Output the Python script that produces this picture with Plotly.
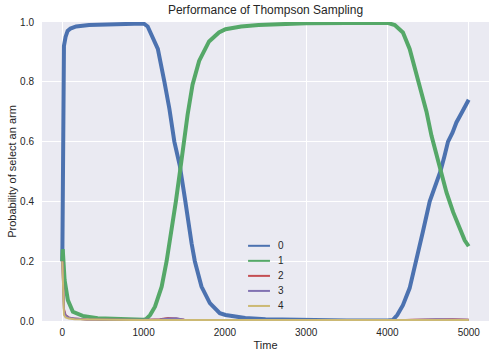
import plotly.graph_objects as go

# ---- data ----
t_main = [0, 5, 10, 20, 40, 65, 100, 170, 330, 600, 850, 1000, 1050, 1075, 1120, 1175,
          1256, 1317, 1378, 1445, 1508, 1560, 1590, 1630, 1712, 1815, 1937, 2008, 2250,
          2500, 3000, 3500, 4000, 4065, 4120, 4190, 4273, 4356, 4437, 4520, 4603, 4651,
          4700, 4745, 4800, 4848, 4920, 4999]
arm0 = [0.2, 0.6, 0.85, 0.92, 0.95, 0.97, 0.978, 0.985, 0.99, 0.993, 0.995, 0.995, 0.985,
        0.97, 0.945, 0.91, 0.80, 0.71, 0.60, 0.52, 0.41, 0.31, 0.26, 0.20, 0.115, 0.06,
        0.026, 0.02, 0.01, 0.006, 0.003, 0.002, 0.002, 0.003, 0.02, 0.053, 0.11, 0.20,
        0.30, 0.40, 0.464, 0.50, 0.55, 0.60, 0.63, 0.664, 0.70, 0.74]

t_arm1 = [0, 5, 28, 68, 130, 250, 435, 700, 1000, 1030, 1080, 1140, 1222, 1283, 1364,
          1397, 1455, 1500, 1541, 1602, 1683, 1805, 1927, 2008, 2200, 2415, 3000, 3500,
          4000, 4090, 4190, 4273, 4356, 4418, 4480, 4541, 4603, 4651, 4726, 4808, 4889,
          4950, 4999]
arm1 = [0.2, 0.24, 0.137, 0.07, 0.031, 0.017, 0.009, 0.006, 0.004, 0.006, 0.02, 0.048,
        0.115, 0.20, 0.337, 0.40, 0.515, 0.61, 0.69, 0.79, 0.87, 0.935, 0.965, 0.976,
        0.985, 0.99, 0.996, 0.997, 0.997, 0.99, 0.965, 0.91, 0.83, 0.76, 0.70, 0.62,
        0.553, 0.50, 0.43, 0.364, 0.31, 0.27, 0.25]

t_small = [0, 10, 20, 40, 80, 150, 300, 600, 1000, 1200, 1300, 1400, 1500, 2000, 3000,
           4000, 4300, 4600, 4800, 5000]
arm2 = [0.2, 0.08, 0.04, 0.02, 0.012, 0.008, 0.005, 0.004, 0.003, 0.006, 0.01, 0.008,
        0.004, 0.002, 0.001, 0.001, 0.004, 0.005, 0.006, 0.004]
arm3 = [0.2, 0.07, 0.035, 0.018, 0.011, 0.008, 0.005, 0.004, 0.003, 0.005, 0.008, 0.009,
        0.004, 0.002, 0.001, 0.001, 0.003, 0.006, 0.005, 0.004]
arm4 = [0.2, 0.05, 0.02, 0.012, 0.008, 0.006, 0.005, 0.004, 0.003, 0.003, 0.004, 0.003,
        0.003, 0.002, 0.002, 0.002, 0.002, 0.003, 0.003, 0.003]

names = ["0", "1", "2", "3", "4"]
colors = ["#4C72B0", "#55A868", "#C44E52", "#8172B2", "#CCB974"]
x_ticks = [0, 1000, 2000, 3000, 4000, 5000]
y_ticks = [0.0, 0.2, 0.4, 0.6, 0.8, 1.0]
y_tick_text = ["0.0", "0.2", "0.4", "0.6", "0.8", "1.0"]

series = [(t_main, arm0, 4.0), (t_arm1, arm1, 4.0), (t_small, arm2, 2.0),
          (t_small, arm3, 2.0), (t_small, arm4, 2.0)]

FONT = "Liberation Sans, Arial, sans-serif"
TXT = "#262626"

fig = go.Figure()
for (tx, vals, w), name, col in zip(series, names, colors):
    fig.add_trace(go.Scatter(x=tx, y=vals, mode="lines", name=name,
                             showlegend=False, line=dict(color=col, width=w)))

# legend drawn in the matplotlib style (no frame, compact rows)
leg_x0, leg_x1, leg_tx = 0.461, 0.510, 0.523
leg_top, leg_step = 0.2515, 0.0503
for i, (name, col) in enumerate(zip(names, colors)):
    yy = leg_top - i * leg_step
    fig.add_shape(type="line", xref="paper", yref="paper", x0=leg_x0, x1=leg_x1,
                  y0=yy, y1=yy, line=dict(color=col, width=2))
    fig.add_annotation(xref="paper", yref="paper", x=leg_tx, y=yy, text=name,
                       showarrow=False, xanchor="left", yanchor="middle",
                       font=dict(size=10, color=TXT, family=FONT))

fig.update_layout(
    width=495, height=359,
    margin=dict(l=42, r=6, t=22, b=38),
    paper_bgcolor="white",
    plot_bgcolor="#EAEAF2",
    font=dict(family=FONT, size=10, color=TXT),
    title=dict(text="Performance of Thompson Sampling", x=0.5, xref="paper",
               xanchor="center", y=1 - 10 / 359, yref="container", yanchor="middle",
               font=dict(size=12, color=TXT, family=FONT)),
    showlegend=False,
)
fig.update_xaxes(range=[-250, 5249], tickvals=x_ticks, ticktext=[str(v) for v in x_ticks],
                 showgrid=True, gridcolor="white", gridwidth=1, zeroline=False,
                 ticks="outside", ticklen=2, tickcolor="rgba(0,0,0,0)",
                 showline=False, automargin=False,
                 title=dict(text="Time", font=dict(size=11, color=TXT, family=FONT),
                            standoff=4))
fig.update_yaxes(range=[0, 1], tickvals=y_ticks, ticktext=y_tick_text,
                 showgrid=True, gridcolor="white", gridwidth=1, zeroline=False,
                 ticks="outside", ticklen=5, tickcolor="rgba(0,0,0,0)",
                 showline=False, automargin=False,
                 title=dict(text="Probability of select an arm",
                            font=dict(size=11, color=TXT, family=FONT), standoff=1))

fig.write_html("out.html", config={"displayModeBar": False},
               post_script="document.body.style.margin='0';"
                           "document.body.style.overflow='hidden';")
